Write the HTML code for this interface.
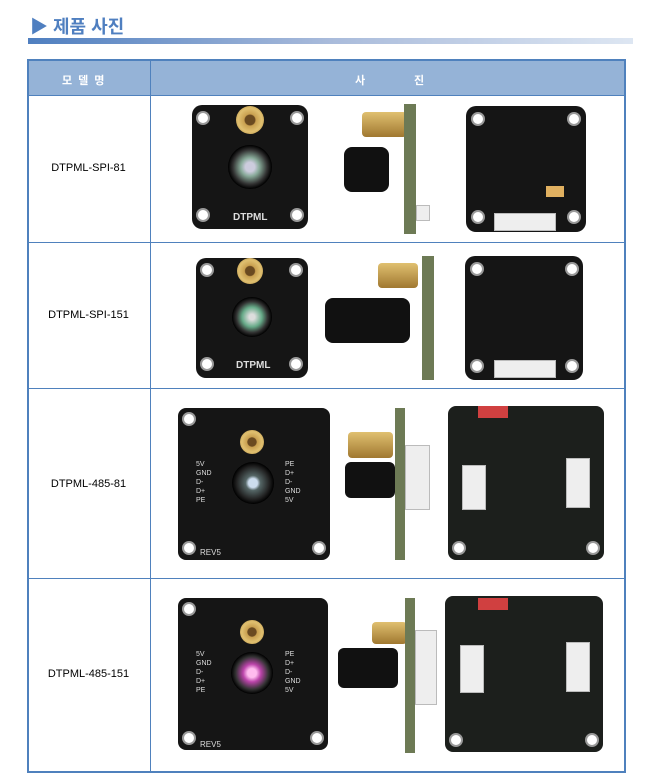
<!DOCTYPE html><html><head><meta charset="utf-8"><style>
*{margin:0;padding:0;box-sizing:border-box}
body{width:659px;height:784px;background:#fff;position:relative;overflow:hidden;font-family:"Liberation Sans","Noto Sans CJK KR",sans-serif}
.a{position:absolute}
.b{position:absolute;background:#151515;border-radius:10px}
.h{position:absolute;background:#fff;border-radius:50%;border:2px solid #999}
.g{position:absolute;background:radial-gradient(circle,#6a4a20 25%,#c9a050 30%,#e0c070 60%,#a07830);border-radius:50%}
.l{position:absolute;border-radius:50%;background:radial-gradient(circle,#cde 15%,#566 25%,#222 55%,#000 70%)}
.w{position:absolute;background:#eee;border:1px solid #bbb}
.t{position:absolute;font-size:11px;color:#000;width:123px;text-align:center}
</style></head><body>
<div class="a" style="left:30px;top:13px;font-size:18px;color:#4f7fc0;font-weight:bold">▶ 제품 사진</div>
<div class="a" style="left:28px;top:38px;width:605px;height:6px;background:linear-gradient(90deg,#4f7fc0,#a9bbdb 50%,#dde6f2)"></div>
<div class="a" style="left:27px;top:59px;width:599px;height:714px;border:2px solid #4f81bd"></div>
<div class="a" style="left:29px;top:61px;width:595px;height:34px;background:#95b3d7"></div>
<div class="a" style="left:150px;top:59px;width:1px;height:714px;background:#4f81bd"></div>
<div class="a" style="left:27px;top:95px;width:599px;height:1px;background:#4f81bd"></div>
<div class="a" style="left:27px;top:242px;width:599px;height:1px;background:#4f81bd"></div>
<div class="a" style="left:27px;top:388px;width:599px;height:1px;background:#4f81bd"></div>
<div class="a" style="left:27px;top:578px;width:599px;height:1px;background:#4f81bd"></div>
<div class="a" style="left:62px;top:72px;color:#fff;font-size:11px;font-weight:bold;letter-spacing:6px">모델명</div>
<div class="a" style="left:355px;top:72px;color:#fff;font-size:11px;font-weight:bold">사</div>
<div class="a" style="left:414px;top:72px;color:#fff;font-size:11px;font-weight:bold">진</div>
<div class="t" style="left:27px;top:162px">DTPML-SPI-81</div>
<div class="t" style="left:27px;top:309px">DTPML-SPI-151</div>
<div class="t" style="left:27px;top:478px">DTPML-485-81</div>
<div class="t" style="left:27px;top:668px">DTPML-485-151</div>

<!-- row1 -->
<div class="b" style="left:192px;top:105px;width:116px;height:124px"></div>
<div class="h" style="left:196px;top:111px;width:14px;height:14px"></div><div class="h" style="left:290px;top:111px;width:14px;height:14px"></div>
<div class="h" style="left:196px;top:208px;width:14px;height:14px"></div><div class="h" style="left:290px;top:208px;width:14px;height:14px"></div>
<div class="g" style="left:236px;top:106px;width:28px;height:28px"></div>
<div class="l" style="left:228px;top:145px;width:44px;height:44px;background:radial-gradient(circle,#ccd 15%,#8a9 30%,#333 55%,#000 70%)"></div>
<div class="a" style="left:233px;top:212px;color:#ddd;font-size:10px;font-weight:bold">DTPML</div>
<div class="a" style="left:362px;top:112px;width:45px;height:25px;background:linear-gradient(#e0c070,#a07830);border-radius:4px"></div>
<div class="a" style="left:344px;top:147px;width:45px;height:45px;background:#111;border-radius:8px"></div>
<div class="a" style="left:404px;top:104px;width:12px;height:130px;background:#6d7a55"></div>
<div class="w" style="left:416px;top:205px;width:14px;height:16px"></div>
<div class="b" style="left:466px;top:106px;width:120px;height:126px"></div>
<div class="h" style="left:471px;top:112px;width:14px;height:14px"></div><div class="h" style="left:567px;top:112px;width:14px;height:14px"></div>
<div class="h" style="left:471px;top:210px;width:14px;height:14px"></div><div class="h" style="left:567px;top:210px;width:14px;height:14px"></div>
<div class="w" style="left:494px;top:213px;width:62px;height:18px"></div>
<div class="a" style="left:546px;top:186px;width:18px;height:11px;background:#e0b060"></div>

<!-- row2 -->
<div class="b" style="left:196px;top:258px;width:112px;height:120px"></div>
<div class="h" style="left:200px;top:263px;width:14px;height:14px"></div><div class="h" style="left:289px;top:263px;width:14px;height:14px"></div>
<div class="h" style="left:200px;top:357px;width:14px;height:14px"></div><div class="h" style="left:289px;top:357px;width:14px;height:14px"></div>
<div class="g" style="left:237px;top:258px;width:26px;height:26px"></div>
<div class="l" style="left:232px;top:297px;width:40px;height:40px;background:radial-gradient(circle,#ddd 10%,#6a8 35%,#333 55%,#000 70%)"></div>
<div class="a" style="left:236px;top:360px;color:#ddd;font-size:10px;font-weight:bold">DTPML</div>
<div class="a" style="left:378px;top:263px;width:40px;height:25px;background:linear-gradient(#e0c070,#a07830);border-radius:4px"></div>
<div class="a" style="left:325px;top:298px;width:85px;height:45px;background:#111;border-radius:8px"></div>
<div class="a" style="left:422px;top:256px;width:12px;height:124px;background:#6d7a55"></div>
<div class="b" style="left:465px;top:256px;width:118px;height:124px"></div>
<div class="h" style="left:470px;top:262px;width:14px;height:14px"></div><div class="h" style="left:565px;top:262px;width:14px;height:14px"></div>
<div class="h" style="left:470px;top:359px;width:14px;height:14px"></div><div class="h" style="left:565px;top:359px;width:14px;height:14px"></div>
<div class="w" style="left:494px;top:360px;width:62px;height:18px"></div>

<!-- row3 -->
<div class="b" style="left:178px;top:408px;width:152px;height:152px;border-radius:8px"></div>
<div class="h" style="left:182px;top:412px;width:14px;height:14px"></div><div class="h" style="left:182px;top:541px;width:14px;height:14px"></div><div class="h" style="left:312px;top:541px;width:14px;height:14px"></div>
<div class="g" style="left:240px;top:430px;width:24px;height:24px"></div>
<div class="l" style="left:232px;top:462px;width:42px;height:42px"></div>
<div class="a" style="left:196px;top:460px;color:#ddd;font-size:7px;line-height:9px">5V<br>GND<br>D-<br>D+<br>PE</div>
<div class="a" style="left:285px;top:460px;color:#ddd;font-size:7px;line-height:9px">PE<br>D+<br>D-<br>GND<br>5V</div>
<div class="a" style="left:200px;top:548px;color:#ddd;font-size:8px">REV5</div>
<div class="a" style="left:348px;top:432px;width:45px;height:26px;background:linear-gradient(#e0c070,#a07830);border-radius:4px"></div>
<div class="a" style="left:345px;top:462px;width:50px;height:36px;background:#111;border-radius:6px"></div>
<div class="w" style="left:405px;top:445px;width:25px;height:65px"></div>
<div class="a" style="left:395px;top:408px;width:10px;height:152px;background:#6d7a55"></div>
<div class="b" style="left:448px;top:406px;width:156px;height:154px;border-radius:8px;background:#1c1f1c"></div>
<div class="w" style="left:462px;top:465px;width:24px;height:45px"></div><div class="w" style="left:566px;top:458px;width:24px;height:50px"></div>
<div class="a" style="left:478px;top:406px;width:30px;height:12px;background:#d04040"></div>
<div class="h" style="left:452px;top:541px;width:14px;height:14px"></div><div class="h" style="left:586px;top:541px;width:14px;height:14px"></div>

<!-- row4 -->
<div class="b" style="left:178px;top:598px;width:150px;height:152px;border-radius:8px"></div>
<div class="h" style="left:182px;top:602px;width:14px;height:14px"></div><div class="h" style="left:182px;top:731px;width:14px;height:14px"></div><div class="h" style="left:310px;top:731px;width:14px;height:14px"></div>
<div class="g" style="left:240px;top:620px;width:24px;height:24px"></div>
<div class="l" style="left:231px;top:652px;width:42px;height:42px;background:radial-gradient(circle,#fbe 15%,#b4a 30%,#333 55%,#000 70%)"></div>
<div class="a" style="left:196px;top:650px;color:#ddd;font-size:7px;line-height:9px">5V<br>GND<br>D-<br>D+<br>PE</div>
<div class="a" style="left:285px;top:650px;color:#ddd;font-size:7px;line-height:9px">PE<br>D+<br>D-<br>GND<br>5V</div>
<div class="a" style="left:200px;top:740px;color:#ddd;font-size:8px">REV5</div>
<div class="a" style="left:372px;top:622px;width:35px;height:22px;background:linear-gradient(#e0c070,#a07830);border-radius:4px"></div>
<div class="a" style="left:338px;top:648px;width:60px;height:40px;background:#111;border-radius:6px"></div>
<div class="w" style="left:415px;top:630px;width:22px;height:75px"></div>
<div class="a" style="left:405px;top:598px;width:10px;height:155px;background:#6d7a55"></div>
<div class="b" style="left:445px;top:596px;width:158px;height:156px;border-radius:8px;background:#1c1f1c"></div>
<div class="w" style="left:460px;top:645px;width:24px;height:48px"></div><div class="w" style="left:566px;top:642px;width:24px;height:50px"></div>
<div class="a" style="left:478px;top:598px;width:30px;height:12px;background:#d04040"></div>
<div class="h" style="left:449px;top:733px;width:14px;height:14px"></div><div class="h" style="left:585px;top:733px;width:14px;height:14px"></div>
</body></html>
